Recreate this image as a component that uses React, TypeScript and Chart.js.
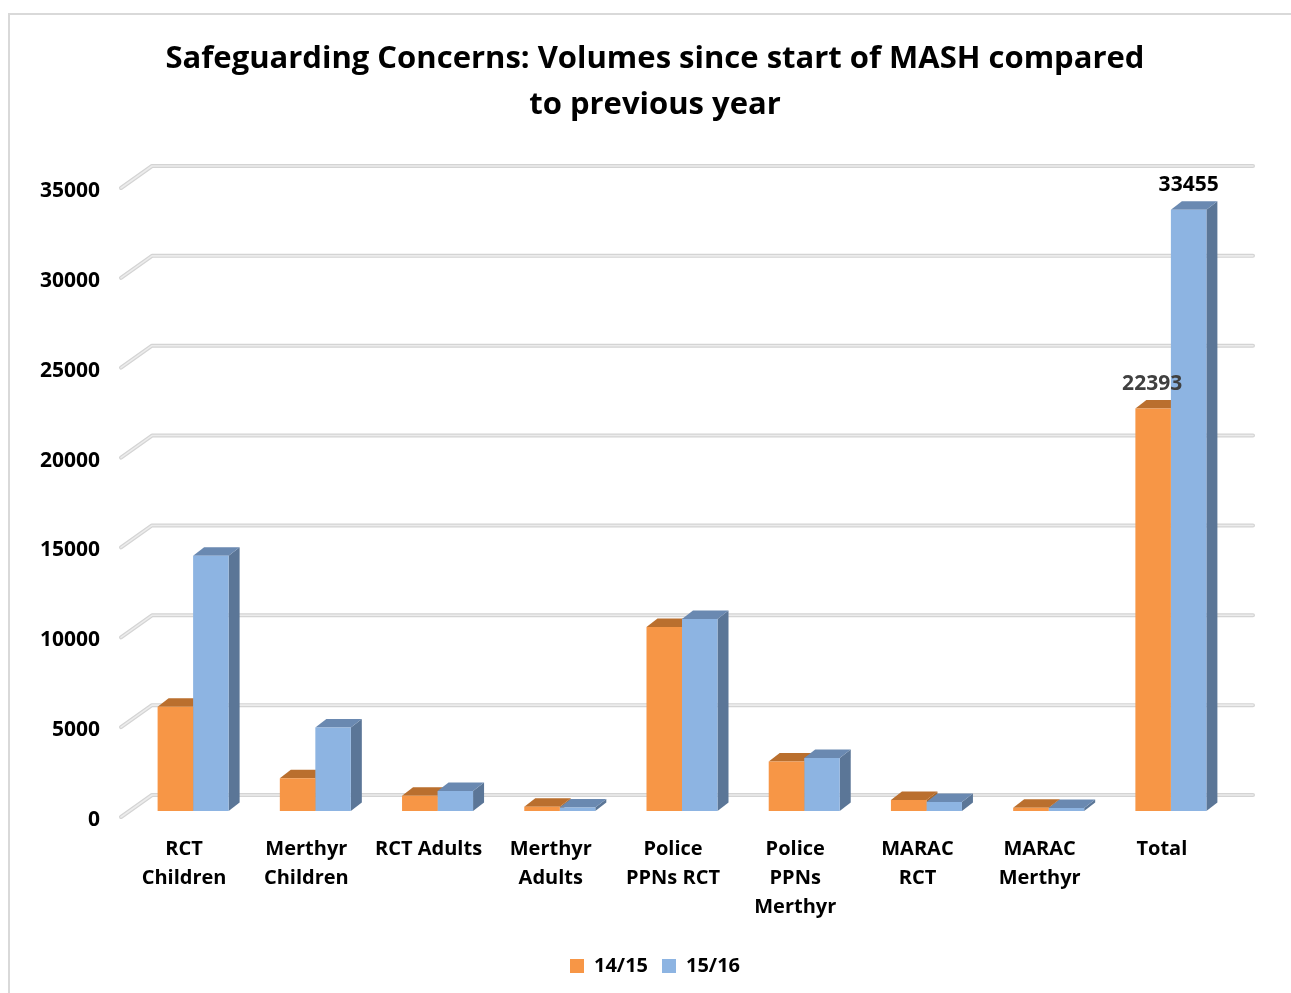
import React, { useEffect, useRef } from "react";
import { Chart, registerables } from "chart.js";

Chart.register(...registerables);

const categories: (string | string[])[] = [
  ["RCT", "Children"],
  ["Merthyr", "Children"],
  "RCT Adults",
  ["Merthyr", "Adults"],
  ["Police", "PPNs RCT"],
  ["Police", "PPNs", "Merthyr"],
  ["MARAC", "RCT"],
  ["MARAC", "Merthyr"],
  "Total",
];
const series1415 = [5800, 1820, 850, 240, 10240, 2750, 610, 180, 22393];
const series1516 = [14200, 4650, 1110, 200, 10680, 2950, 500, 160, 33455];
const seriesLabels = ["14/15", "15/16"];
const yTicks = [0, 5000, 10000, 15000, 20000, 25000, 30000, 35000];
const labelledCategory = "Total";

const FONT = "'Open Sans', 'Noto Sans', sans-serif";
const frontColors = ["#F79646", "#8DB4E2"];
const topColors = ["#BA6F2E", "#6A89B1"];
const sideColors = ["#A9662A", "#5B7697"];
const DX = 11;
const DY = 8.5;

const threeD = {
  id: "threeD",
  beforeDatasetsDraw(chart: any) {
    const { ctx, chartArea, scales } = chart;
    const y = scales.y;
    ctx.save();
    ctx.lineCap = "round";
    ctx.lineJoin = "round";
    for (const t of y.ticks) {
      const py = y.getPixelForValue(t.value);
      const pts = [
        [chartArea.left - 11, py + 6],
        [chartArea.left + 20, py - 16],
        [chartArea.right + 21, py - 16],
      ];
      for (const [w, c] of [
        [4, "#d4d4d4"],
        [1.6, "#ececec"],
      ] as [number, string][]) {
        ctx.beginPath();
        ctx.moveTo(pts[0][0], pts[0][1]);
        ctx.lineTo(pts[1][0], pts[1][1]);
        ctx.lineTo(pts[2][0], pts[2][1]);
        ctx.strokeStyle = c;
        ctx.lineWidth = w;
        ctx.stroke();
      }
    }
    ctx.restore();

    const metas = chart.data.datasets.map((_: any, i: number) => chart.getDatasetMeta(i));
    const n = chart.data.labels.length;
    ctx.save();
    for (let j = 0; j < n; j++) {
      metas.forEach((meta: any, di: number) => {
        const el = meta.data[j];
        if (!el) return;
        const p = el.getProps(["x", "y", "base", "width"], true);
        const x0 = p.x - p.width / 2;
        const x1 = p.x + p.width / 2;
        const top = p.y;
        const base = p.base;
        ctx.beginPath();
        ctx.moveTo(x1, top);
        ctx.lineTo(x1 + DX, top - DY);
        ctx.lineTo(x1 + DX, base - DY);
        ctx.lineTo(x1, base);
        ctx.closePath();
        ctx.fillStyle = sideColors[di];
        ctx.fill();
        ctx.beginPath();
        ctx.moveTo(x0, top);
        ctx.lineTo(x0 + DX, top - DY);
        ctx.lineTo(x1 + DX, top - DY);
        ctx.lineTo(x1, top);
        ctx.closePath();
        ctx.fillStyle = topColors[di];
        ctx.fill();
      });
    }
    ctx.restore();
  },
  afterDatasetsDraw(chart: any) {
    const { ctx } = chart;
    const idx = chart.data.labels.findIndex((l: any) => l === labelledCategory);
    if (idx < 0) return;
    ctx.save();
    ctx.font = `bold 21px ${FONT}`;
    ctx.textAlign = "center";
    ctx.textBaseline = "middle";
    const colors = ["#404040", "#000000"];
    chart.data.datasets.forEach((ds: any, di: number) => {
      const el = chart.getDatasetMeta(di).data[idx];
      const p = el.getProps(["x", "y"], true);
      ctx.fillStyle = colors[di];
      ctx.fillText(String(ds.data[idx]), p.x - (di === 0 ? 1 : 0), p.y - 25);
    });
    ctx.restore();
  },
};

export default function App() {
  const ref = useRef<HTMLCanvasElement>(null);
  useEffect(() => {
    if (!ref.current) return;
    const chart = new Chart(ref.current, {
      type: "bar",
      data: {
        labels: categories,
        datasets: [
          {
            label: seriesLabels[0],
            data: series1415,
            backgroundColor: frontColors[0],
            borderWidth: 0,
          },
          {
            label: seriesLabels[1],
            data: series1516,
            backgroundColor: frontColors[1],
            borderWidth: 0,
          },
        ],
      },
      options: {
        responsive: false,
        animation: false,
        events: [],
        layout: { padding: { left: 19, right: 0, top: 0, bottom: 7 } },
        datasets: {
          bar: { categoryPercentage: 0.581, barPercentage: 1 },
        },
        scales: {
          x: {
            grid: { display: false, drawTicks: false },
            border: { display: false },
            ticks: {
              autoSkip: false,
              maxRotation: 0,
              minRotation: 0,
              padding: 24,
              labelOffset: -9,
              color: "#000000",
              font: { family: FONT, size: 20, weight: "bold", lineHeight: 1.45 },
            },
            afterFit: (s: any) => {
              s.height = 131;
            },
          },
          y: {
            min: 0,
            max: 35000,
            grid: { display: false, drawTicks: false },
            border: { display: false },
            afterBuildTicks: (s: any) => {
              s.ticks = yTicks.map((v) => ({ value: v }));
            },
            ticks: {
              padding: 32,
              labelOffset: 9,
              color: "#000000",
              font: { family: FONT, size: 21, weight: "bold" },
              callback: (v: any) => String(v),
            },
            afterFit: (s: any) => {
              s.width = 113;
            },
          },
          y2: {
            position: "right",
            display: true,
            grid: { display: false, drawTicks: false },
            border: { display: false },
            ticks: { display: false },
            afterFit: (s: any) => {
              s.width = 59;
            },
          },
        },
        plugins: {
          title: {
            display: true,
            text: [
              "Safeguarding Concerns: Volumes since start of MASH compared",
              "to previous year",
            ],
            color: "#000000",
            font: { family: FONT, size: 31, weight: "bold", lineHeight: 46 / 31 },
            padding: { top: 36, bottom: 54 },
          },
          legend: {
            position: "bottom",
            labels: {
              boxWidth: 14,
              boxHeight: 14,
              padding: 14,
              color: "#000000",
              font: { family: FONT, size: 20, weight: "bold" },
            },
          },
          tooltip: { enabled: false },
        },
      },
      plugins: [threeD],
    });
    return () => chart.destroy();
  }, []);

  return (
    <div
      style={{
        position: "fixed",
        left: 0,
        top: 0,
        width: 1291,
        height: 993,
        background: "#ffffff",
        overflow: "hidden",
      }}
    >
      <canvas
        ref={ref}
        width={1291}
        height={993}
        style={{ position: "absolute", left: 0, top: 0, width: 1291, height: 993 }}
      />
      <div
        style={{
          position: "absolute",
          left: 8,
          top: 13,
          width: 2000,
          height: 2000,
          borderLeft: "2px solid #d9d9d9",
          borderTop: "2px solid #d9d9d9",
          pointerEvents: "none",
        }}
      />
    </div>
  );
}
